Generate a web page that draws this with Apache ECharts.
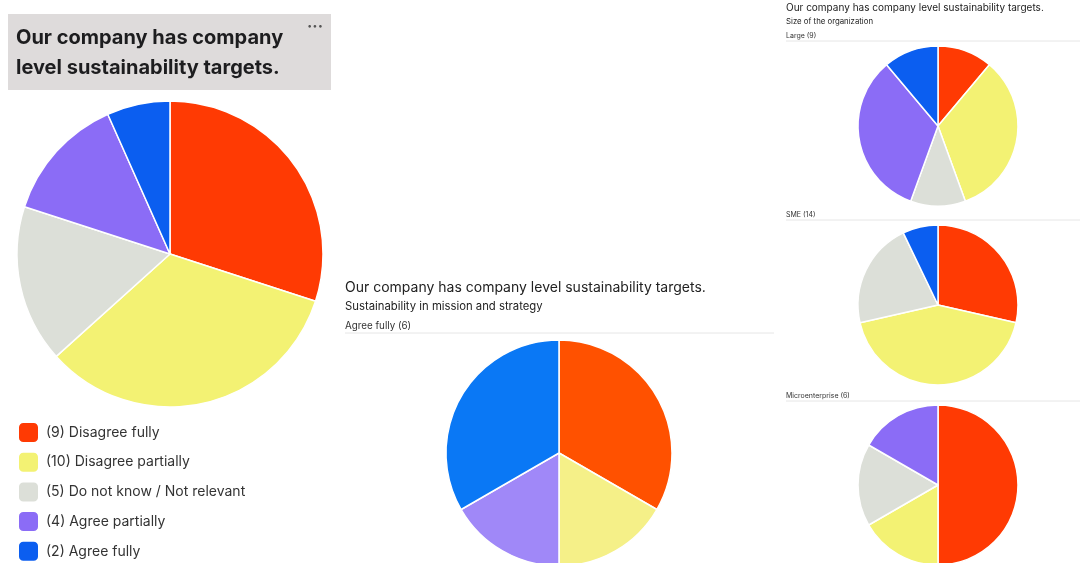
<!DOCTYPE html>
<html>
<head>
<meta charset="utf-8">
<style>
  html, body { margin: 0; padding: 0; background: #ffffff; }
  #chart { width: 1080px; height: 563px; }
</style>
<script src="https://cdn.jsdelivr.net/npm/echarts@6/dist/echarts.min.js"></script>
</head>
<body>
<div id="chart"></div>
<script>
// Answer categories, in the order they are drawn clockwise from 12 o'clock
const categories = ['Disagree fully', 'Disagree partially', 'Do not know / Not relevant', 'Agree partially', 'Agree fully'];

// Respondent counts per answer
const overallCounts = [9, 10, 5, 4, 2];
const agreeFullyCounts = [2, 1, 0, 1, 2];   // "Sustainability in mission and strategy" = Agree fully
const largeCounts = [1, 3, 1, 3, 1];
const smeCounts = [4, 6, 3, 0, 1];
const microCounts = [3, 1, 1, 1, 0];

const questionTitle = 'Our company has company level sustainability targets.';
const headerLines = ['Our company has company', 'level sustainability targets.'];

// Palettes
const mainColors = ['#ff3a03', '#f3f273', '#dcdfd8', '#8b6cf6', '#0b5ef0'];
const missionColors = ['#ff5100', '#f5f088', '#dcdfd8', '#a088f8', '#0a78f5'];

const FONT = 'Inter, "Noto Sans", sans-serif';

function pieData(counts, colors) {
  return categories
    .map((name, i) => ({ name, value: counts[i], itemStyle: { color: colors[i] } }))
    .filter(d => d.value > 0);
}

function pieSeries(id, counts, colors, center, radius) {
  return {
    type: 'pie',
    id,
    center,
    radius,
    startAngle: 90,
    clockwise: true,
    animation: false,
    label: { show: false },
    labelLine: { show: false },
    emphasis: { disabled: true },
    itemStyle: { borderColor: '#ffffff', borderWidth: 1.5 },
    data: pieData(counts, colors)
  };
}

const total = (arr) => arr.reduce((a, b) => a + b, 0);

const graphics = [
  // header box of the left card
  { type: 'rect', shape: { x: 8, y: 14, width: 323, height: 76 }, style: { fill: '#dedbdb' }, z: 0 },
  { type: 'text', x: 16, y: 38, style: { text: headerLines[0], font: 'bold 20px ' + FONT, fill: '#1d1d1f', textVerticalAlign: 'middle' } },
  { type: 'text', x: 16, y: 68, style: { text: headerLines[1], font: 'bold 20px ' + FONT, fill: '#1d1d1f', textVerticalAlign: 'middle' } },
  { type: 'text', x: 307, y: 27, style: { text: '···', font: 'bold 16px ' + FONT, fill: '#555555', textVerticalAlign: 'middle' } },

  // middle panel headings
  { type: 'text', x: 345, y: 288, style: { text: questionTitle, font: '14px ' + FONT, fill: '#222222', textVerticalAlign: 'middle' } },
  { type: 'text', x: 345, y: 307, style: { text: 'Sustainability in mission and strategy', font: '11.3px ' + FONT, fill: '#222222', textVerticalAlign: 'middle' } },
  { type: 'text', x: 345, y: 326, style: { text: 'Agree fully (' + total(agreeFullyCounts) + ')', font: '9.8px ' + FONT, fill: '#333333', textVerticalAlign: 'middle' } },
  { type: 'line', shape: { x1: 345, y1: 333, x2: 774, y2: 333 }, style: { stroke: '#e6e6e6', lineWidth: 1 } },

  // right panel headings
  { type: 'text', x: 786, y: 8, style: { text: questionTitle, font: '10px ' + FONT, fill: '#222222', textVerticalAlign: 'middle' } },
  { type: 'text', x: 786, y: 22, style: { text: 'Size of the organization', font: '7.8px ' + FONT, fill: '#222222', textVerticalAlign: 'middle' } },
  { type: 'text', x: 786, y: 36, style: { text: 'Large (' + total(largeCounts) + ')', font: '7px ' + FONT, fill: '#333333', textVerticalAlign: 'middle' } },
  { type: 'line', shape: { x1: 786, y1: 41, x2: 1080, y2: 41 }, style: { stroke: '#e6e6e6', lineWidth: 1 } },
  { type: 'text', x: 786, y: 215, style: { text: 'SME (' + total(smeCounts) + ')', font: '7px ' + FONT, fill: '#333333', textVerticalAlign: 'middle' } },
  { type: 'line', shape: { x1: 786, y1: 220, x2: 1080, y2: 220 }, style: { stroke: '#e6e6e6', lineWidth: 1 } },
  { type: 'text', x: 786, y: 396, style: { text: 'Microenterprise (' + total(microCounts) + ')', font: '7px ' + FONT, fill: '#333333', textVerticalAlign: 'middle' } },
  { type: 'line', shape: { x1: 786, y1: 401, x2: 1080, y2: 401 }, style: { stroke: '#e6e6e6', lineWidth: 1 } }
];

const chart = echarts.init(document.getElementById('chart'), null, { renderer: 'canvas' });

chart.setOption({
  backgroundColor: '#ffffff',
  animation: false,
  graphic: graphics,
  legend: {
    orient: 'vertical',
    left: 17,
    top: 421,
    height: 160,
    padding: 0,
    itemWidth: 21,
    itemHeight: 21,
    itemGap: 6.7,
    icon: 'roundRect',
    selectedMode: false,
    data: categories,
    formatter: (name) => '(' + overallCounts[categories.indexOf(name)] + ') ' + name,
    textStyle: { fontFamily: FONT, fontSize: 14, color: '#333333', padding: [0, 0, 0, 2] }
  },
  series: [
    pieSeries('overall', overallCounts, mainColors, [170, 254], 153),
    pieSeries('mission', agreeFullyCounts, missionColors, [559, 453], 113),
    pieSeries('large', largeCounts, mainColors, [938, 126], 80),
    pieSeries('sme', smeCounts, mainColors, [938, 305], 80),
    pieSeries('micro', microCounts, mainColors, [938, 485], 80)
  ]
});
</script>
</body>
</html>
